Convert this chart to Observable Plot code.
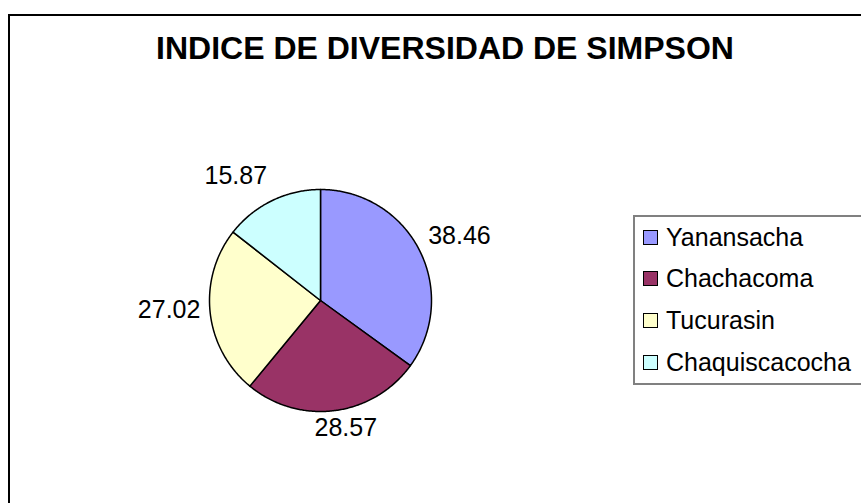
<!DOCTYPE html>
<html>
<head>
<meta charset="utf-8">
<script src="https://cdn.jsdelivr.net/npm/d3@7"></script>
<script src="https://cdn.jsdelivr.net/npm/@observablehq/plot@0.6"></script>
<style>
  html, body { margin: 0; padding: 0; background: #fff; overflow: hidden; }
  #wrap { position: relative; width: 861px; height: 503px; font-family: "Liberation Sans", Arial, sans-serif; }
  #frame { position: absolute; left: 8px; top: 14px; width: 870px; height: 500px; border: 2px solid #000; box-sizing: border-box; }
  #title { position: absolute; left: 0; width: 890px; top: 30px; text-align: center; font-weight: bold; font-size: 32px; color: #000; }
  #chart { position: absolute; left: 0; top: 0; }
  #legend { position: absolute; left: 633px; top: 215px; width: 240px; height: 170px; border: 2px solid #808080; box-sizing: border-box; background: #fff; }
  .item { position: absolute; left: 8px; height: 30px; display: flex; align-items: center; font-size: 25px; color: #000; }
  .sw { width: 13px; height: 13px; border: 1.5px solid #000; margin-right: 8px; }
</style>
</head>
<body>
<div id="wrap">
  <div id="frame"></div>
  <div id="chart"></div>
  <div id="title">INDICE DE DIVERSIDAD DE SIMPSON</div>
  <div id="legend"></div>
</div>
<script>
const categories = ["Yanansacha", "Chachacoma", "Tucurasin", "Chaquiscacocha"];
const values = [38.46, 28.57, 27.02, 15.87];
const colors = ["#9999FF", "#993366", "#FFFFCC", "#CCFFFF"];
const labels = ["38.46", "28.57", "27.02", "15.87"];

const total = d3.sum(values);
let cum = 0;
const slices = values.map((v, i) => {
  const a0 = cum / total * 2 * Math.PI;
  cum += v;
  const a1 = cum / total * 2 * Math.PI;
  return {name: categories[i], value: v, label: labels[i], a0, a1, mid: (a0 + a1) / 2};
});

// polygon outline for each slice (center -> arc -> center)
const outline = [];
for (const s of slices) {
  outline.push({name: s.name, x: 0, y: 0});
  const n = Math.max(4, Math.ceil((s.a1 - s.a0) / 0.01));
  for (let k = 0; k <= n; k++) {
    const a = s.a0 + (s.a1 - s.a0) * k / n;
    outline.push({name: s.name, x: Math.sin(a), y: Math.cos(a)});
  }
  outline.push({name: s.name, x: 0, y: 0});
}

// outside-end labels: anchor just outside the rim, pushed out by half the label box
const labelPts = slices.map(s => {
  const r = 1.08, hw = 0.29, hh = 0.12, k = 2.5;
  const sx = Math.sin(s.mid), sy = Math.cos(s.mid);
  return {label: s.label,
    x: r * sx + Math.sign(sx) * hw * Math.min(1, Math.abs(sx) * k),
    y: r * sy + hh * sy + 0.04};
});

const cx = 320, cy = 300, R = 111;
const chart = Plot.plot({
  width: 861,
  height: 503,
  margin: 0,
  style: {background: "transparent", overflow: "visible"},
  x: {domain: [-1, 1], range: [cx - R, cx + R], axis: null},
  y: {domain: [-1, 1], range: [cy + R, cy - R], axis: null},
  color: {domain: categories, range: colors},
  marks: [
    Plot.line(outline, {x: "x", y: "y", z: "name", fill: "name", stroke: "#000", strokeWidth: 1.5, curve: "linear"}),
    Plot.text(labelPts, {x: "x", y: "y", text: "label", fontSize: 25, fill: "#000", fontFamily: "Liberation Sans, Arial, sans-serif"})
  ]
});
document.getElementById("chart").appendChild(chart);

const legend = document.getElementById("legend");
const rowY = [237, 278, 320, 362];
categories.forEach((c, i) => {
  const it = document.createElement("div");
  it.className = "item";
  it.style.top = (rowY[i] - 215 - 15 - 2) + "px";
  const sw = document.createElement("div");
  sw.className = "sw";
  sw.style.background = colors[i];
  it.appendChild(sw);
  const t = document.createElement("span");
  t.textContent = c;
  it.appendChild(t);
  legend.appendChild(it);
});
</script>
</body>
</html>
